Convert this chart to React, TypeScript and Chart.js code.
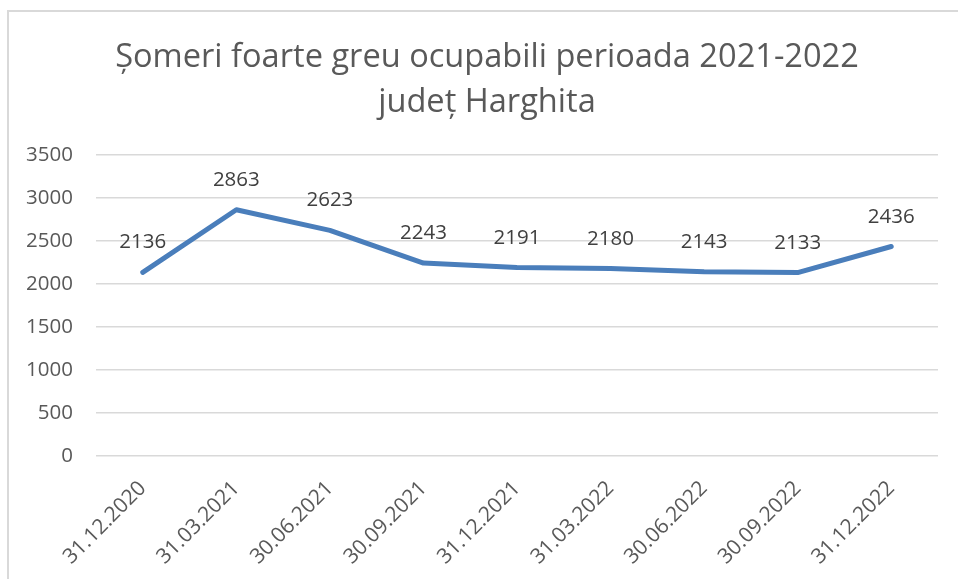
import React, { useEffect, useRef } from "react";
import { Chart, registerables } from "chart.js";

Chart.register(...registerables);

const TITLE_LINES = ["Șomeri foarte greu ocupabili perioada 2021-2022", "județ Harghita"];
const CATEGORIES = [
  "31.12.2020",
  "31.03.2021",
  "30.06.2021",
  "30.09.2021",
  "31.12.2021",
  "31.03.2022",
  "30.06.2022",
  "30.09.2022",
  "31.12.2022",
];
const VALUES = [2136, 2863, 2623, 2243, 2191, 2180, 2143, 2133, 2436];
const Y_MIN = 0;
const Y_MAX = 3500;
const Y_STEP = 500;

const FONT = "'Open Sans', 'Noto Sans', sans-serif";
const TEXT = "#595959";

export default function App() {
  const ref = useRef<HTMLCanvasElement | null>(null);

  useEffect(() => {
    if (!ref.current) return;
    const titlePlugin = {
      id: "customTitle",
      afterDraw(chart: any) {
        const ctx = chart.ctx;
        ctx.save();
        ctx.fillStyle = TEXT;
        ctx.font = `32.6px ${FONT}`;
        ctx.textAlign = "center";
        ctx.textBaseline = "alphabetic";
        ctx.fillText(TITLE_LINES[0], 487, 67);
        ctx.fillText(TITLE_LINES[1], 487, 112);
        ctx.restore();
      },
    };
    const labelPlugin = {
      id: "valueLabels",
      afterDatasetsDraw(chart: any) {
        const ctx = chart.ctx;
        const meta = chart.getDatasetMeta(0);
        ctx.save();
        ctx.fillStyle = "#404040";
        ctx.font = `20.5px ${FONT}`;
        ctx.textAlign = "center";
        ctx.textBaseline = "alphabetic";
        meta.data.forEach((pt: any, i: number) => {
          ctx.fillText(String(VALUES[i]), pt.x, pt.y - 24);
        });
        ctx.restore();
      },
    };
    const chart = new Chart(ref.current, {
      type: "line",
      data: {
        labels: CATEGORIES,
        datasets: [
          {
            data: VALUES,
            borderColor: "#4a7ebb",
            backgroundColor: "#4a7ebb",
            borderWidth: 5,
            borderCapStyle: "round",
            borderJoinStyle: "round",
            pointRadius: 0,
            tension: 0,
          },
        ],
      },
      options: {
        responsive: false,
        animation: false,
        layout: { padding: { top: 155, right: 20, left: 0, bottom: 0 } },
        plugins: {
          legend: { display: false },
          title: { display: false },
          tooltip: { enabled: false },
        },
        scales: {
          x: {
            offset: true,
            grid: { display: false, drawTicks: false },
            border: { display: false },
            ticks: {
              autoSkip: false,
              minRotation: 45,
              maxRotation: 45,
              padding: 20,
              color: TEXT,
              font: { family: FONT, size: 21 },
            },
            afterFit(scale: any) {
              scale.height = 123;
            },
          },
          y: {
            min: Y_MIN,
            max: Y_MAX,
            grid: { color: "#d9d9d9", lineWidth: 1.5, drawTicks: false },
            border: { display: false },
            ticks: {
              stepSize: Y_STEP,
              padding: 23,
              color: TEXT,
              font: { family: FONT, size: 20.5 },
              callback: (v: any) => String(v),
            },
            afterFit(scale: any) {
              scale.width = 96;
            },
          },
        },
      },
      plugins: [titlePlugin, labelPlugin],
    });
    return () => chart.destroy();
  }, []);

  return (
    <div
      style={{
        position: "fixed",
        left: 0,
        top: 0,
        width: 958,
        height: 579,
        background: "#ffffff",
        overflow: "hidden",
      }}
    >
      <div
        style={{
          position: "absolute",
          left: 7,
          top: 10,
          width: 980,
          height: 600,
          borderLeft: "2px solid #d9d9d9",
          borderTop: "2px solid #d9d9d9",
          pointerEvents: "none",
        }}
      />
      <canvas ref={ref} width={958} height={579} style={{ position: "absolute", left: 0, top: 0 }} />
    </div>
  );
}
